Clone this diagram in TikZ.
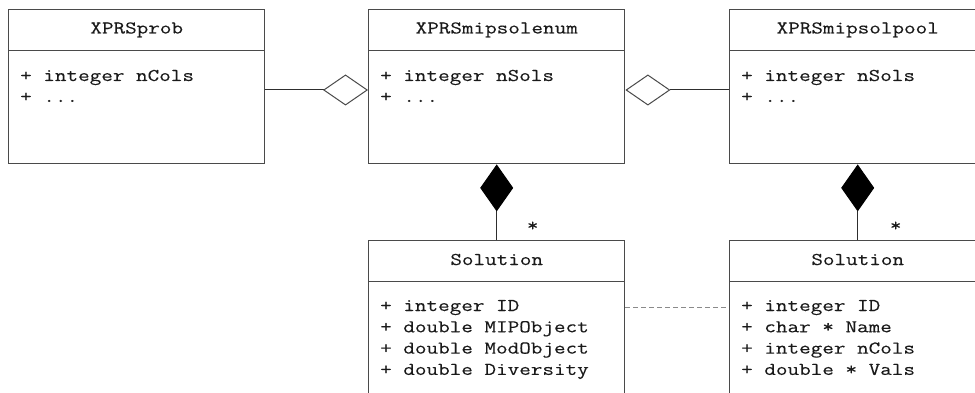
\documentclass[tikz,border=0pt]{standalone}
\usepackage{fontspec}
\setmonofont[FakeStretch=1.25, FakeBold=0.2]{Latin Modern Mono}
\usetikzlibrary{arrows.meta,calc}
\definecolor{boxline}{HTML}{4A4A4A}
\definecolor{connline}{HTML}{2E2E2E}
\definecolor{dashline}{HTML}{8A8A8A}
\definecolor{txt}{HTML}{1A1A1A}
\tikzset{
  txtfont/.style={font=\ttfamily\fontsize{18}{21}\selectfont, text=txt, inner sep=0pt},
  classbox/.style={draw=boxline, line width=1.4pt, fill=white, minimum width=256pt,
    minimum height=154pt, anchor=north west, inner sep=0pt},
  sepline/.style={draw=boxline, line width=1.4pt},
  classname/.style={txtfont, anchor=base},
  attr/.style={txtfont, anchor=base west},
  conn/.style={draw=connline, line width=1pt},
  aggr/.style={conn, -{Diamond[open, length=45pt, width=31pt, fill=white, color=boxline]}},
  compo/.style={conn, -{Diamond[length=47pt, width=33pt, fill=black, color=black]}},
  dep/.style={draw=dashline, line width=1pt, dash pattern=on 5pt off 3pt},
}
\begin{document}
\begin{tikzpicture}[x=1pt, y=-1pt]
\useasboundingbox (0,0) rectangle (975,393);
\clip (0,0) rectangle (975,393);

% class boxes
\node[classbox] (prob) at (8,9) {};
\node[classbox] (enum) at (368,9) {};
\node[classbox] (pool) at (729,9) {};
\node[classbox] (sol1) at (368,240) {};
\node[classbox] (sol2) at (729,240) {};

% header separators
\foreach \b in {prob,enum,pool,sol1,sol2}
  \draw[sepline] ($(\b.north west)+(0,41.5)$) -- ($(\b.north east)+(0,41.5)$);

% class names
\node[classname] (probn) at ($(prob.north)+(0,24.5)$) {XPRSprob};
\node[classname] (enumn) at ($(enum.north)+(0,24.5)$) {XPRSmipsolenum};
\node[classname] (pooln) at ($(pool.north)+(0,24.5)$) {XPRSmipsolpool};
\node[classname] (sol1n) at ($(sol1.north)+(0,25)$) {Solution};
\node[classname] (sol2n) at ($(sol2.north)+(0,25)$) {Solution};

% attributes
\node[attr] (proba1) at ($(prob.north west)+(12,72)$) {+ integer nCols};
\node[attr] (proba2) at ($(prob.north west)+(12,93)$) {+ ...};
\node[attr] (enuma1) at ($(enum.north west)+(12,72)$) {+ integer nSols};
\node[attr] (enuma2) at ($(enum.north west)+(12,93)$) {+ ...};
\node[attr] (poola1) at ($(pool.north west)+(12,72)$) {+ integer nSols};
\node[attr] (poola2) at ($(pool.north west)+(12,93)$) {+ ...};

\node[attr] (sol1a1) at ($(sol1.north west)+(12,71)$) {+ integer ID};
\node[attr] (sol1a2) at ($(sol1.north west)+(12,92.3)$) {+ double MIPObject};
\node[attr] (sol1a3) at ($(sol1.north west)+(12,113.6)$) {+ double ModObject};
\node[attr] (sol1a4) at ($(sol1.north west)+(12,134.9)$) {+ double Diversity};

\node[attr] (sol2a1) at ($(sol2.north west)+(12,71)$) {+ integer ID};
\node[attr] (sol2a2) at ($(sol2.north west)+(12,92.3)$) {+ char * Name};
\node[attr] (sol2a3) at ($(sol2.north west)+(12,113.6)$) {+ integer nCols};
\node[attr] (sol2a4) at ($(sol2.north west)+(12,134.9)$) {+ double * Vals};

% aggregations
\draw[aggr] ($(prob.north east)+(0,81)$) -- ($(enum.north west)+(0,81)$);
\draw[aggr] ($(pool.north west)+(0,81)$) -- ($(enum.north east)+(0,81)$);

% compositions
\draw[compo] (sol1.north) -- (enum.south);
\draw[compo] (sol2.north) -- (pool.south);

% multiplicities
\node[classname] (star1) at ($(sol1.north)+(36,-9)$) {*};
\node[classname] (star2) at ($(sol2.north)+(38,-9)$) {*};

% dependency
\draw[dep] ($(sol1.north east)+(0,67)$) -- ($(sol2.north west)+(0,67)$);
\end{tikzpicture}
\end{document}
